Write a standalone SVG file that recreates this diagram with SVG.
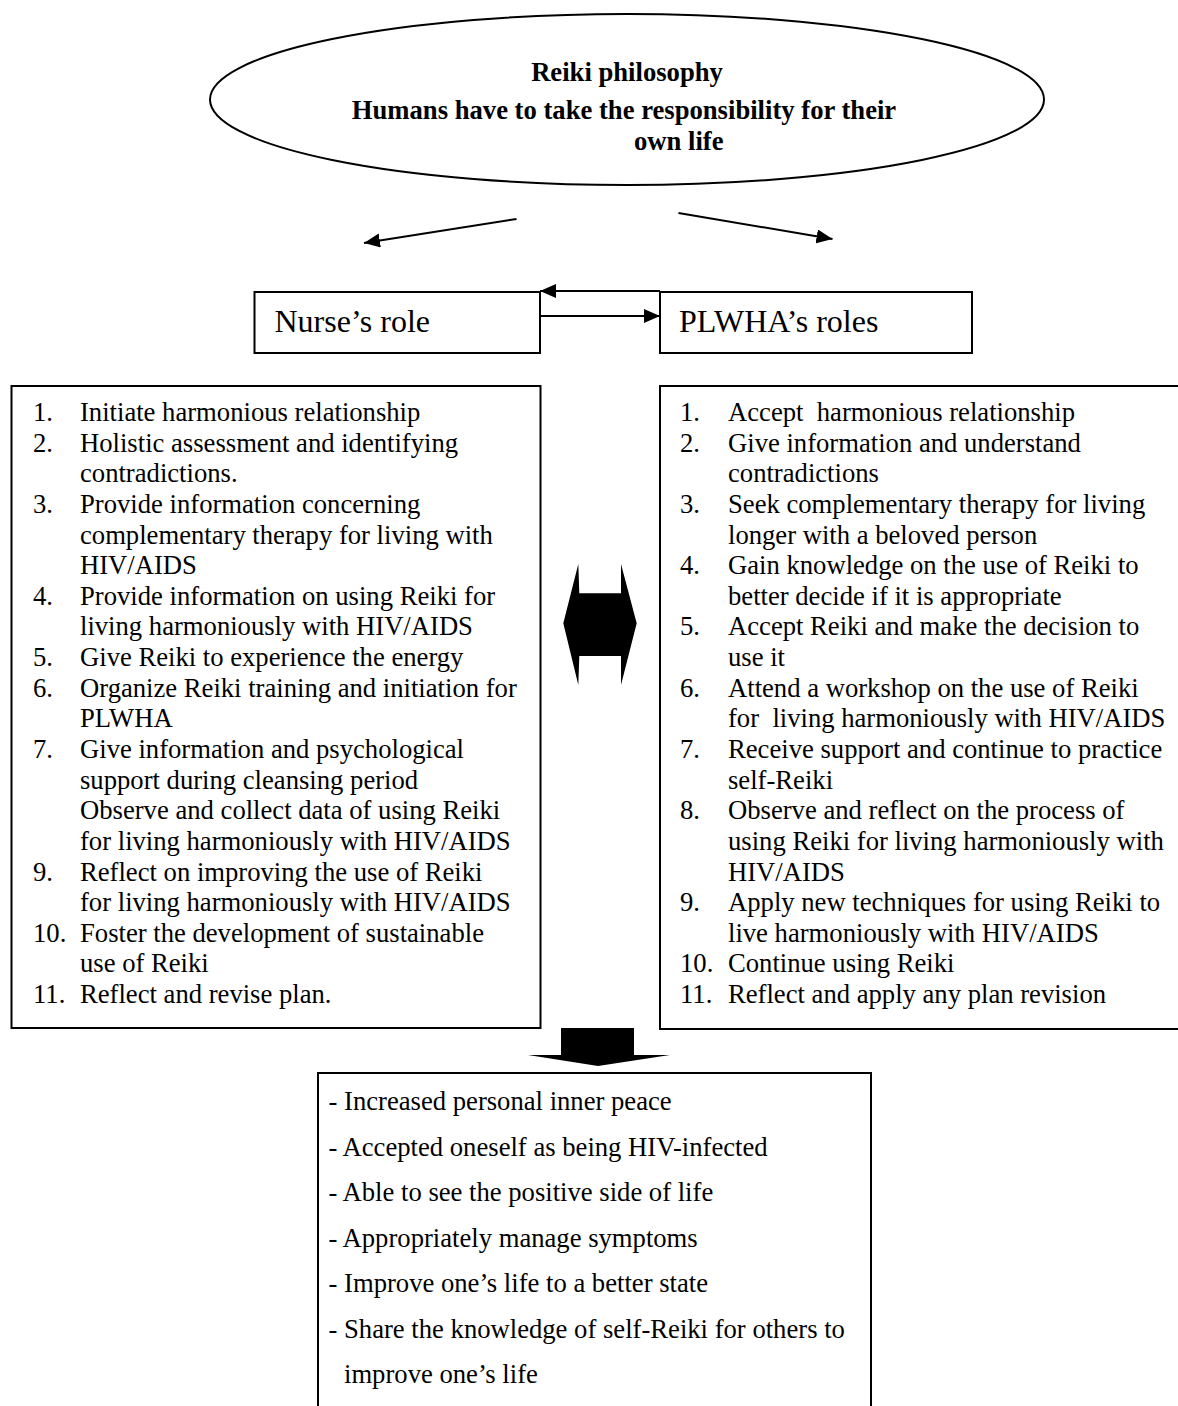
<svg xmlns="http://www.w3.org/2000/svg" width="1178" height="1406" viewBox="0 0 1178 1406">
<style>
  .t { font-family: "Liberation Serif", "Times New Roman", serif; font-size: 26.65px; fill: #000; }
  .pre { white-space: pre; }
  .b { font-weight: bold; }
  .lbl { font-family: "Liberation Serif", "Times New Roman", serif; font-size: 32px; fill: #000; }
  .box { fill: #fff; stroke: #000; stroke-width: 2; }
  .ln { fill: none; stroke: #000; stroke-width: 2; }
  .blk { fill: #000; stroke: none; }
</style>
<defs>
  <marker id="ah" markerUnits="userSpaceOnUse" markerWidth="17" markerHeight="15" refX="16" refY="7" orient="auto">
    <path d="M0,0 L16,7 L0,14 z" fill="#000"/>
  </marker>
</defs>
<rect x="0" y="0" width="1178" height="1406" fill="#fff"/>

<g id="philosophy">
  <ellipse cx="627" cy="99.5" rx="417" ry="85.5" class="box"/>
  <text class="t b" x="627" y="81" text-anchor="middle">Reiki philosophy</text>
  <text class="t b" x="624" y="119" text-anchor="middle">Humans have to take the responsibility for their</text>
  <text class="t b" x="634" y="149.5">own life</text>
</g>

<g id="nurse-role">
  <rect x="254.5" y="292" width="285.5" height="61" class="box"/>
  <text class="lbl" x="274.5" y="332">Nurse’s role</text>
</g>

<g id="plwha-roles">
  <rect x="660" y="292" width="312" height="61" class="box"/>
  <text class="lbl" x="679" y="332">PLWHA’s roles</text>
</g>

<g id="nurse-list">
  <rect x="11.5" y="386" width="529" height="642" class="box"/>
  <g class="t">
    <text x="33" y="421">1.</text><text x="80" y="421">Initiate harmonious relationship</text>
    <text x="33" y="451.6">2.</text><text x="80" y="451.6">Holistic assessment and identifying</text>
    <text x="80" y="482.3">contradictions.</text>
    <text x="33" y="512.9">3.</text><text x="80" y="512.9">Provide information concerning</text>
    <text x="80" y="543.5">complementary therapy for living with</text>
    <text x="80" y="574.2">HIV/AIDS</text>
    <text x="33" y="604.8">4.</text><text x="80" y="604.8">Provide information on using Reiki for</text>
    <text x="80" y="635.4">living harmoniously with HIV/AIDS</text>
    <text x="33" y="666">5.</text><text x="80" y="666">Give Reiki to experience the energy</text>
    <text x="33" y="696.7">6.</text><text x="80" y="696.7">Organize Reiki training and initiation for</text>
    <text x="80" y="727.3">PLWHA</text>
    <text x="33" y="757.9">7.</text><text x="80" y="757.9">Give information and psychological</text>
    <text x="80" y="788.6">support during cleansing period</text>
    <text x="80" y="819.2">Observe and collect data of using Reiki</text>
    <text x="80" y="849.8">for living harmoniously with HIV/AIDS</text>
    <text x="33" y="880.5">9.</text><text x="80" y="880.5">Reflect on improving the use of Reiki</text>
    <text x="80" y="911.1">for living harmoniously with HIV/AIDS</text>
    <text x="33" y="941.7">10.</text><text x="80" y="941.7">Foster the development of sustainable</text>
    <text x="80" y="972.3">use of Reiki</text>
    <text x="33" y="1003">11.</text><text x="80" y="1003">Reflect and revise plan.</text>
  </g>
</g>

<g id="plwha-list">
  <rect x="660" y="386" width="540" height="643" class="box"/>
  <g class="t">
    <text x="680" y="421">1.</text><text class="pre" x="728" y="421">Accept  harmonious relationship</text>
    <text x="680" y="451.6">2.</text><text x="728" y="451.6">Give information and understand</text>
    <text x="728" y="482.3">contradictions</text>
    <text x="680" y="512.9">3.</text><text x="728" y="512.9">Seek complementary therapy for living</text>
    <text x="728" y="543.5">longer with a beloved person</text>
    <text x="680" y="574.2">4.</text><text x="728" y="574.2">Gain knowledge on the use of Reiki to</text>
    <text x="728" y="604.8">better decide if it is appropriate</text>
    <text x="680" y="635.4">5.</text><text x="728" y="635.4">Accept Reiki and make the decision to</text>
    <text x="728" y="666">use it</text>
    <text x="680" y="696.7">6.</text><text x="728" y="696.7">Attend a workshop on the use of Reiki</text>
    <text class="pre" x="728" y="727.3">for  living harmoniously with HIV/AIDS</text>
    <text x="680" y="757.9">7.</text><text x="728" y="757.9">Receive support and continue to practice</text>
    <text x="728" y="788.6">self-Reiki</text>
    <text x="680" y="819.2">8.</text><text x="728" y="819.2">Observe and reflect on the process of</text>
    <text x="728" y="849.8">using Reiki for living harmoniously with</text>
    <text x="728" y="880.5">HIV/AIDS</text>
    <text x="680" y="911.1">9.</text><text x="728" y="911.1">Apply new techniques for using Reiki to</text>
    <text x="728" y="941.7">live harmoniously with HIV/AIDS</text>
    <text x="680" y="972.3">10.</text><text x="728" y="972.3">Continue using Reiki</text>
    <text x="680" y="1003">11.</text><text x="728" y="1003">Reflect and apply any plan revision</text>
  </g>
</g>

<g id="outcomes">
  <rect x="318" y="1073" width="553" height="350" class="box"/>
  <g class="t">
    <text x="328.5" y="1110">- Increased personal inner peace</text>
    <text x="328.5" y="1155.5">- Accepted oneself as being HIV-infected</text>
    <text x="328.5" y="1201">- Able to see the positive side of life</text>
    <text x="328.5" y="1246.5">- Appropriately manage symptoms</text>
    <text x="328.5" y="1292">- Improve one’s life to a better state</text>
    <text x="328.5" y="1337.5">- Share the knowledge of self-Reiki for others to</text>
    <text x="344" y="1383">improve one’s life</text>
  </g>
</g>

<g id="connectors">
  <line x1="516.5" y1="219" x2="364" y2="243" class="ln" marker-end="url(#ah)"/>
  <line x1="678.5" y1="213" x2="832.5" y2="239" class="ln" marker-end="url(#ah)"/>
  <line x1="660" y1="291" x2="540" y2="291" class="ln" marker-end="url(#ah)"/>
  <line x1="540" y1="316" x2="660" y2="316" class="ln" marker-end="url(#ah)"/>
  <polygon class="blk" points="578.3,564 579.3,593.3 621,593.3 621,564 636.7,623.3 621,685 621,656 579.3,656 578.3,685 563.3,623.3"/>
  <polygon class="blk" points="561,1028 634,1028 634,1055 670,1055 598,1066 528,1055 561,1055"/>
</g>
</svg>
